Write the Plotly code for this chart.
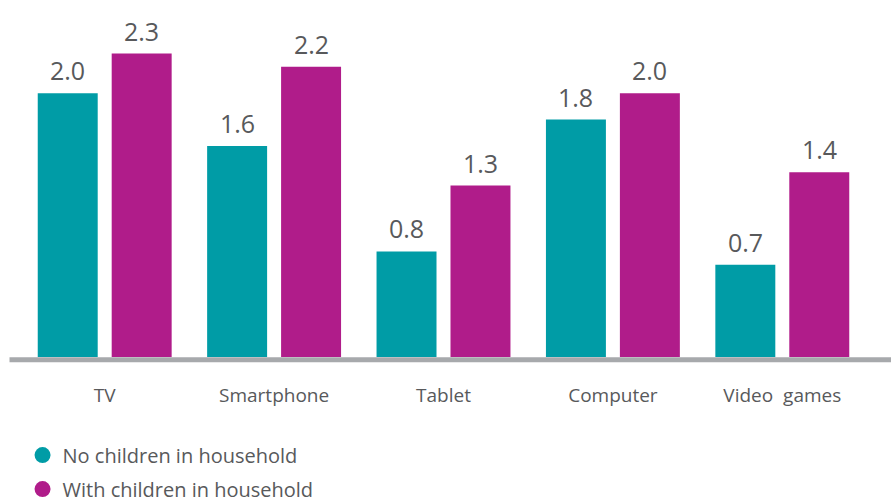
import plotly.graph_objects as go

categories = ["TV", "Smartphone", "Tablet", "Computer", "Video  games"]
no_children = [2.0, 1.6, 0.8, 1.8, 0.7]
with_children = [2.3, 2.2, 1.3, 2.0, 1.4]
series_names = ["No children in household", "With children in household"]

TEAL = "#009ca6"
MAGENTA = "#b01c8a"
TEXT = "#58595b"
FONT = "Open Sans"

fig = go.Figure()
series = [(series_names[0], no_children, TEAL, -37, "legend"),
          (series_names[1], with_children, MAGENTA, 37, "legend2")]
for name, vals, col, dx, leg in series:
    fig.add_trace(go.Bar(
        x=categories, y=vals, name=name, marker_color=col,
        marker_line_width=0, showlegend=False,
    ))
    # value labels above each bar
    for cat, v in zip(categories, vals):
        fig.add_annotation(x=cat, y=v, text=f"{v:.1f}", showarrow=False,
                           xshift=dx, yshift=4, yanchor="bottom",
                           font=dict(size=25, color=TEXT, family=FONT))
    # legend entry drawn as a round swatch
    fig.add_trace(go.Scatter(
        x=[None], y=[None], mode="markers", name=name, legend=leg,
        marker=dict(symbol="circle", size=20, color=col),
    ))

legend_style = dict(xanchor="left", yanchor="middle", bgcolor="rgba(0,0,0,0)",
                    font=dict(size=20, color=TEXT, family=FONT), itemwidth=30)

fig.update_layout(
    width=891, height=503,
    margin=dict(l=19.5, r=23.5, t=14, b=146, autoexpand=False),
    paper_bgcolor="white", plot_bgcolor="white",
    barmode="group", bargap=0.127, bargroupgap=0.189,
    font=dict(family=FONT, color=TEXT),
    xaxis=dict(showgrid=False, showline=False, zeroline=False, ticks="",
               tickfont=dict(size=19, color=TEXT, family=FONT),
               ticklabelstandoff=25),
    yaxis=dict(range=[0, 2.6], visible=False),
    legend=dict(x=0.003, y=-0.286, **legend_style),
    legend2=dict(x=0.003, y=-0.385, **legend_style),
    shapes=[dict(type="line", xref="paper", yref="paper",
                 x0=-0.0124, x1=1.03, y0=-0.0082, y1=-0.0082,
                 line=dict(color="#a7a9ac", width=5))],
)

fig.write_html("out.html")
